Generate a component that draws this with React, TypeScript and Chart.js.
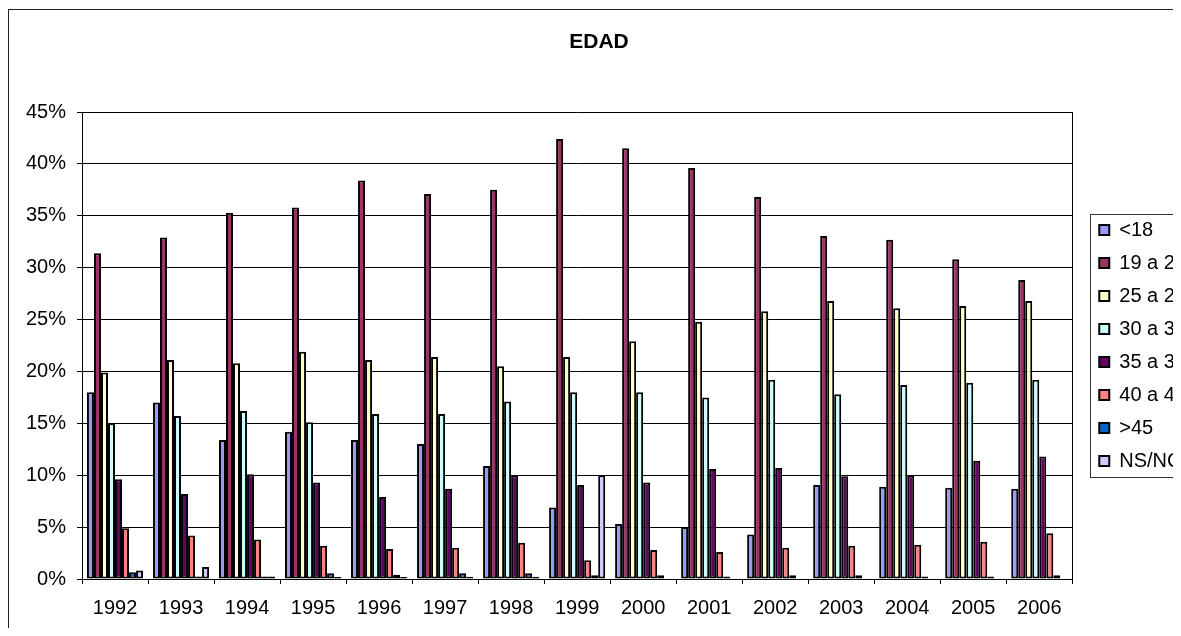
import React, { useEffect, useRef } from "react";
import { Chart, registerables } from "chart.js";

Chart.register(...registerables);

const years = ["1992", "1993", "1994", "1995", "1996", "1997", "1998", "1999", "2000", "2001", "2002", "2003", "2004", "2005", "2006"];
const seriesNames = ["<18", "19 a 24", "25 a 29", "30 a 34", "35 a 39", "40 a 44", ">45", "NS/NC"];
const under18 = [18.0, 17.0, 13.4, 14.2, 13.4, 13.0, 10.9, 6.9, 5.3, 5.0, 4.3, 9.05, 8.9, 8.8, 8.7];
const age19to24 = [31.4, 32.9, 35.3, 35.8, 38.4, 37.1, 37.5, 42.4, 41.5, 39.6, 36.8, 33.05, 32.7, 30.8, 28.8];
const age25to29 = [19.9, 21.1, 20.8, 21.9, 21.1, 21.4, 20.5, 21.4, 22.9, 24.8, 25.8, 26.8, 26.1, 26.3, 26.8];
const age30to34 = [15.0, 15.7, 16.2, 15.1, 15.9, 15.9, 17.1, 18.0, 18.0, 17.5, 19.2, 17.8, 18.7, 18.9, 19.2];
const age35to39 = [9.6, 8.2, 10.1, 9.3, 7.9, 8.7, 10.0, 9.05, 9.3, 10.6, 10.7, 9.9, 10.0, 11.4, 11.8];
const age40to44 = [4.9, 4.2, 3.8, 3.2, 2.9, 3.0, 3.5, 1.8, 2.8, 2.6, 3.0, 3.2, 3.3, 3.6, 4.4];
const over45 = [0.64, 0.25, 0.25, 0.55, 0.4, 0.55, 0.55, 0.35, 0.35, 0.25, 0.35, 0.35, 0.25, 0.25, 0.35];
const nsnc = [0.83, 1.15, 0.25, 0.2, 0.2, 0.22, 0.22, 10.0, null, null, null, null, null, null, null];
const seriesColors = ["#9999FF", "#993366", "#FFFFCC", "#CCFFFF", "#660066", "#FF8080", "#0066CC", "#CCCCFF"];
const yTickMax = 45;
const yTickStep = 5;

const FONT = "'Liberation Sans', Arial, sans-serif";
const CANVAS_W = 1188;
const CANVAS_H = 628;

export default function App() {
  const ref = useRef<HTMLCanvasElement | null>(null);

  useEffect(() => {
    document.documentElement.style.overflow = "hidden";
    document.body.style.overflow = "hidden";
    const canvas = ref.current;
    if (!canvas) return;
    const allSeries = [under18, age19to24, age25to29, age30to34, age35to39, age40to44, over45, nsnc];

    const framePlugin = {
      id: "frames",
      beforeDraw(chart: any) {
        const ctx = chart.ctx;
        ctx.save();
        ctx.fillStyle = "#ffffff";
        ctx.fillRect(0, 0, chart.width, chart.height);
        ctx.strokeStyle = "#222222";
        ctx.lineWidth = 1;
        ctx.strokeRect(0.5, 1.5, chart.width + 20, chart.height + 20);
        ctx.restore();
      },
      afterDraw(chart: any) {
        const lg = chart.legend;
        if (!lg || !lg.legendHitBoxes || !lg.legendHitBoxes.length) return;
        const hb = lg.legendHitBoxes;
        const first = hb[0];
        const last = hb[hb.length - 1];
        const ctx = chart.ctx;
        ctx.save();
        ctx.strokeStyle = "#333333";
        ctx.lineWidth = 1;
        const l = Math.round(first.left - 9) + 0.5;
        const t = Math.round(first.top - 6) + 0.5;
        const b = Math.round(last.top + last.height + 6) + 0.5;
        ctx.strokeRect(l, t, chart.width + 20 - l, b - t);
        ctx.restore();
      },
    };

    const chart = new Chart(canvas, {
      type: "bar",
      data: {
        labels: years,
        datasets: seriesNames.map((name, i) => ({
          label: name,
          data: allSeries[i],
          backgroundColor: seriesColors[i],
          borderColor: "#000000",
          borderWidth: 2,
          borderSkipped: false,
          categoryPercentage: 0.85,
          barPercentage: 1.0,
        })),
      },
      options: {
        responsive: false,
        animation: false,
        devicePixelRatio: 1,
        layout: { padding: { left: -6, right: 0, top: 0, bottom: 0 } },
        plugins: {
          title: {
            display: true,
            text: "EDAD",
            color: "#000000",
            font: { family: FONT, size: 21, weight: "bold", lineHeight: 1.2 },
            padding: { top: 22, bottom: 56.8 },
          },
          legend: {
            display: true,
            position: "right",
            fullSize: false,
            align: "center",
            labels: {
              boxWidth: 10,
              boxHeight: 10,
              padding: 13,
              color: "#000000",
              font: { family: FONT, size: 20 },
            },
          },
          tooltip: { enabled: false },
        },
        scales: {
          x: {
            grid: {
              display: true,
              drawOnChartArea: false,
              drawTicks: true,
              tickLength: 5,
              color: "#000000",
              offset: true,
            },
            border: { display: true, color: "#000000", width: 1 },
            ticks: {
              color: "#000000",
              font: { family: FONT, size: 20 },
              padding: 12,
              maxRotation: 0,
              autoSkip: false,
            },
            afterFit(scale: any) {
              scale.height = CANVAS_H - 571;
            },
          },
          y: {
            min: 0,
            max: yTickMax,
            grid: {
              display: true,
              drawOnChartArea: true,
              drawTicks: true,
              tickLength: 5,
              color: "#000000",
            },
            border: { display: true, color: "#000000", width: 1 },
            ticks: {
              stepSize: yTickStep,
              color: "#000000",
              font: { family: FONT, size: 20 },
              padding: 11,
              callback: (v: any) => v + "%",
            },
            afterFit(scale: any) {
              scale.width = 80;
            },
          },
          y2: {
            position: "right",
            display: true,
            min: 0,
            max: yTickMax,
            grid: { display: false, drawOnChartArea: false, drawTicks: false },
            border: { display: true, color: "#000000", width: 1 },
            ticks: { display: false },
            afterFit(scale: any) {
              scale.width = 14;
            },
          },
        },
      },
      plugins: [framePlugin],
    } as any);

    return () => {
      chart.destroy();
    };
  }, []);

  return (
    <div style={{ width: 1200, height: 620, overflow: "hidden", position: "relative" }}>
      <canvas
        ref={ref}
        width={CANVAS_W}
        height={CANVAS_H}
        style={{ display: "block", width: CANVAS_W, height: CANVAS_H }}
      />
    </div>
  );
}
